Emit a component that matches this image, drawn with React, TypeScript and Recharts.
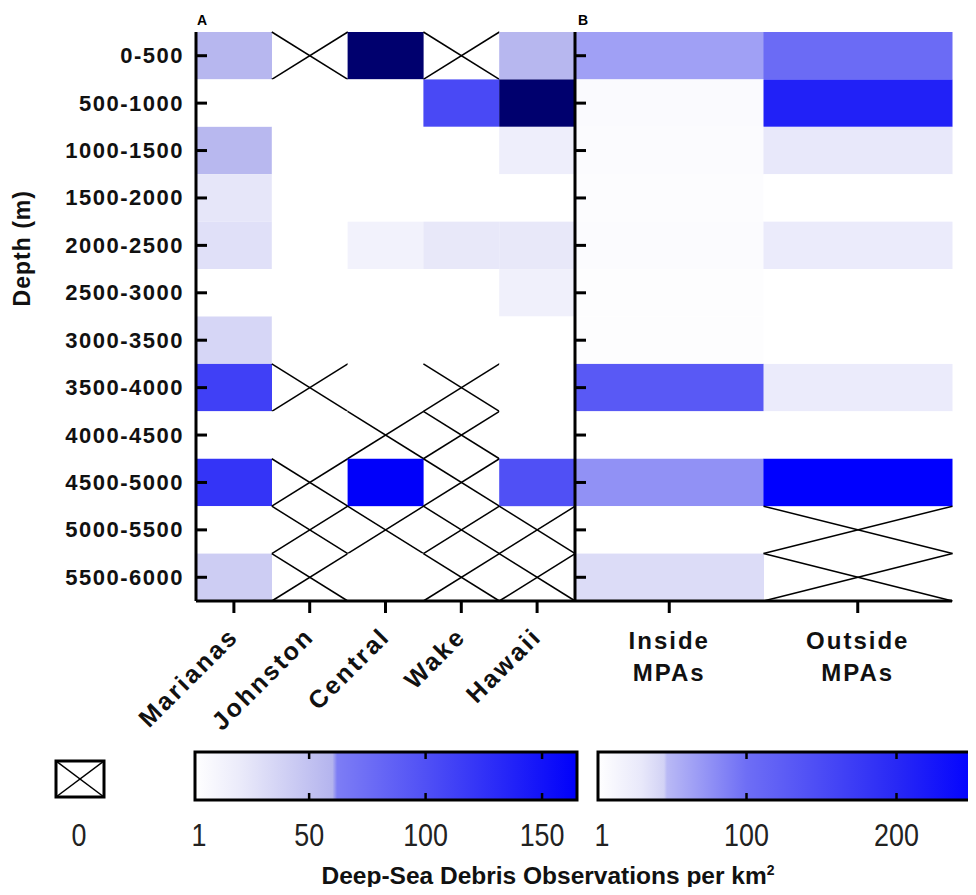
import { Bar, BarChart, ReferenceArea, XAxis, YAxis } from "recharts";

const depthBins = [
  "0-500", "500-1000", "1000-1500", "1500-2000", "2000-2500", "2500-3000",
  "3000-3500", "3500-4000", "4000-4500", "4500-5000", "5000-5500", "5500-6000",
];
const regions = ["Marianas", "Johnston", "Central", "Wake", "Hawaii"];
const mpaGroups = ["Inside\nMPAs", "Outside\nMPAs"];

// debris observations per km² in each depth bin; 0 = none seen (crossed cell)
const marianas = [58, 1, 57, 24, 28, 1, 35, 113, 1, 123, 1, 42];
const johnston = [0, 1, 1, 1, 1, 1, 1, 0, 1, 0, 0, 0];
const central = [380, 1, 1, 1, 13, 1, 1, 1, 0, 165, 0, 1];
const wake = [0, 106, 1, 1, 22, 1, 1, 0, 0, 0, 0, 0];
const hawaii = [58, 420, 17, 1, 22, 15, 1, 1, 1, 100, 0, 0];

const insideMpa = [65, 7, 6, 5, 6, 4, 4, 130, 1, 75, 1, 38];
const outsideMpa = [105, 210, 30, 1, 26, 1, 1, 26, 1, 255, 0, 0];

const ticksA = [1, 50, 100, 150];
const ticksB = [1, 100, 200];

type Stop = [number, [number, number, number]];
const stopsA: Stop[] = [
  [1, [255, 255, 255]],
  [20, [235, 235, 250]],
  [60, [180, 180, 238]],
  [62, [125, 125, 245]],
  [100, [80, 80, 245]],
  [165, [0, 0, 250]],
];
const stopsB: Stop[] = [
  [1, [255, 255, 255]],
  [30, [232, 232, 250]],
  [45, [210, 210, 245]],
  [47, [185, 185, 245]],
  [100, [110, 110, 245]],
  [200, [40, 40, 245]],
  [255, [0, 0, 255]],
];
const OVER = "#00006e";

const rgb = (c: number[]) => `rgb(${c.map((n) => Math.round(n)).join(",")})`;

function colour(v: number, stops: Stop[]) {
  const last = stops[stops.length - 1];
  if (v > last[0]) return OVER;
  if (v <= stops[0][0]) return rgb(stops[0][1]);
  for (let i = 1; i < stops.length; i++) {
    const [v1, c1] = stops[i];
    const [v0, c0] = stops[i - 1];
    if (v <= v1) {
      const t = (v - v0) / (v1 - v0);
      return rgb(c0.map((a, k) => a + (c1[k] - a) * t));
    }
  }
  return rgb(last[1]);
}

function buildRows(names: string[], cols: number[][]) {
  return names.map((name, j) => {
    const row: Record<string, any> = { name };
    depthBins.forEach((_, i) => {
      row[`r${i}`] = 1;
      row[`v${i}`] = cols[j][i];
    });
    return row;
  });
}

const dataA = buildRows(regions, [marianas, johnston, central, wake, hawaii]);
const dataB = buildRows(mpaGroups, [insideMpa, outsideMpa]);
const rowTicks = depthBins.map((_, i) => i + 0.5);

const BOLD = "'Liberation Sans', Arial, sans-serif";

function HeatCell(props: any) {
  const { x, y, width, height, v, stops } = props;
  const top = Math.min(y, y + height);
  const h = Math.abs(height);
  if (v === 0) {
    return (
      <g stroke="#000" strokeWidth={1.5}>
        <line x1={x} y1={top} x2={x + width} y2={top + h} />
        <line x1={x + width} y1={top} x2={x} y2={top + h} />
      </g>
    );
  }
  return <rect x={x} y={top} width={width} height={h} fill={colour(v, stops)} />;
}

function DepthTick({ x, y, payload, showLabel }: any) {
  return (
    <g>
      <line x1={x} x2={x + 11} y1={y} y2={y} stroke="#000" strokeWidth={3} />
      {showLabel && (
        <text
          x={x - 12}
          y={y}
          textAnchor="end"
          dominantBaseline="central"
          fontFamily={BOLD}
          fontWeight="bold"
          fontSize={22}
          letterSpacing={1.5}
          fill="#111"
        >
          {depthBins[Math.floor(payload.value)]}
        </text>
      )}
    </g>
  );
}

function RegionTick({ x, y, payload }: any) {
  const ax = x + 6;
  const ay = y + 37;
  return (
    <g>
      <line x1={x} x2={x} y1={y} y2={y + 12} stroke="#000" strokeWidth={3} />
      <text
        x={ax}
        y={ay}
        transform={`rotate(-45, ${ax}, ${ay})`}
        textAnchor="end"
        fontFamily={BOLD}
        fontWeight="bold"
        fontSize={25}
        letterSpacing={2.5}
        fill="#111"
      >
        {payload.value}
      </text>
    </g>
  );
}

function GroupTick({ x, y, payload }: any) {
  const lines = String(payload.value).split("\n");
  return (
    <g>
      <line x1={x} x2={x} y1={y} y2={y + 12} stroke="#000" strokeWidth={3} />
      {lines.map((t, k) => (
        <text
          key={k}
          x={x}
          y={y + 39 + k * 32}
          textAnchor="middle"
          dominantBaseline="central"
          fontFamily={BOLD}
          fontWeight="bold"
          fontSize={24}
          letterSpacing={2}
          fill="#111"
        >
          {t}
        </text>
      ))}
    </g>
  );
}

// the scale labels use a condensed face: squeeze regular Liberation Sans
function NarrowText({ x, y, children }: any) {
  return (
    <text
      transform={`translate(${x}, ${y}) scale(0.84, 1)`}
      textAnchor="middle"
      dominantBaseline="central"
      fontFamily={BOLD}
      fontSize={32}
      fill="#222"
    >
      {children}
    </text>
  );
}

function LegendTick({ x, y, payload, barH }: any) {
  const edge = payload.value === 1;
  return (
    <g>
      {!edge && (
        <g stroke="#000" strokeWidth={2.5}>
          <line x1={x} x2={x} y1={y} y2={y - 7} />
          <line x1={x} x2={x} y1={y - barH} y2={y - barH + 7} />
        </g>
      )}
      <NarrowText x={edge ? x + 4 : x} y={y + 35}>
        {payload.value}
      </NarrowText>
    </g>
  );
}

function HeatPanel({ data, stops, labels, left, width }: any) {
  return (
    <div style={{ position: "absolute", left, top: 0 }}>
      <BarChart
        width={width}
        height={740}
        data={data}
        margin={{ top: 32, right: labels ? 25 : 28, bottom: 0, left: 0 }}
        barCategoryGap={0}
        barGap={0}
      >
        <XAxis
          dataKey="name"
          height={139}
          tickSize={0}
          tickMargin={0}
          interval={0}
          axisLine={{ stroke: "#000", strokeWidth: 3 }}
          tick={labels ? <RegionTick /> : <GroupTick />}
        />
        <YAxis
          type="number"
          domain={[0, depthBins.length]}
          reversed
          ticks={rowTicks}
          interval={0}
          width={labels ? 196 : 15}
          tickSize={0}
          tickMargin={0}
          axisLine={{ stroke: "#000", strokeWidth: 3 }}
          tick={<DepthTick showLabel={labels} />}
          label={
            labels
              ? {
                  content: (p: any) => {
                    const vb = p.viewBox;
                    const cx = vb.x + 22;
                    const cy = vb.y + vb.height * 0.38;
                    return (
                      <text
                        transform={`translate(${cx}, ${cy}) rotate(-90)`}
                        textAnchor="middle"
                        dominantBaseline="central"
                        fontFamily={BOLD}
                        fontWeight="bold"
                        fontSize={23}
                        letterSpacing={1}
                        fill="#111"
                      >
                        Depth (m)
                      </text>
                    );
                  },
                }
              : undefined
          }
        />
        {depthBins.map((_, i) => (
          <Bar
            key={i}
            dataKey={`r${i}`}
            stackId="s"
            isAnimationActive={false}
            shape={(p: any) => <HeatCell {...p} v={p.payload[`v${i}`]} stops={stops} />}
          />
        ))}
        <ReferenceArea fill="none" stroke="#000" strokeWidth={3} strokeOpacity={1} />
      </BarChart>
    </div>
  );
}

function ColourBar({ id, stops, ticks, left, width, marginLeft, marginRight }: any) {
  const lo = stops[0][0];
  const hi = stops[stops.length - 1][0];
  return (
    <div style={{ position: "absolute", left, top: 740 }}>
      <BarChart
        width={width}
        height={155}
        layout="vertical"
        data={[{ name: id, range: [lo, hi] }]}
        margin={{ top: 12, right: marginRight, bottom: 0, left: marginLeft }}
        barCategoryGap={0}
      >
        <defs>
          <linearGradient id={id} x1="0" y1="0" x2="1" y2="0">
            {stops.map(([v, c]: Stop, k: number) => (
              <stop key={k} offset={(v - lo) / (hi - lo)} stopColor={rgb(c)} />
            ))}
          </linearGradient>
        </defs>
        <XAxis
          type="number"
          domain={[lo, hi]}
          ticks={ticks}
          interval={0}
          height={95}
          tickSize={0}
          tickMargin={0}
          axisLine={false}
          tick={<LegendTick barH={48} />}
        />
        <YAxis type="category" dataKey="name" hide />
        <Bar
          dataKey="range"
          fill={`url(#${id})`}
          stroke="#000"
          strokeWidth={3}
          isAnimationActive={false}
        />
      </BarChart>
    </div>
  );
}

const panelLetter = (left: number) => ({
  position: "absolute" as const,
  left,
  top: 12,
  fontFamily: BOLD,
  fontWeight: "bold",
  fontSize: 14,
});

export default function App() {
  return (
    <div
      style={{
        position: "relative",
        width: 976,
        height: 895,
        margin: -8,
        overflow: "hidden",
        background: "#fff",
      }}
    >
      <HeatPanel data={dataA} stops={stopsA} labels left={0} width={600} />
      <HeatPanel data={dataB} stops={stopsB} labels={false} left={560} width={420} />
      <div style={panelLetter(197)}>A</div>
      <div style={panelLetter(578)}>B</div>
      <svg style={{ position: "absolute", left: 0, top: 740 }} width={150} height={120}>
        <rect x={56} y={21} width={48} height={36} fill="#fff" stroke="#000" strokeWidth={3} />
        <g stroke="#000" strokeWidth={1.5}>
          <line x1={56} y1={21} x2={104} y2={57} />
          <line x1={104} y1={21} x2={56} y2={57} />
        </g>
        <NarrowText x={79} y={95}>0</NarrowText>
      </svg>
      <ColourBar
        id="gradA"
        stops={stopsA}
        ticks={ticksA}
        left={0}
        width={600}
        marginLeft={195}
        marginRight={23}
      />
      <ColourBar
        id="gradB"
        stops={stopsB}
        ticks={ticksB}
        left={580}
        width={410}
        marginLeft={18}
        marginRight={11}
      />
      <div
        style={{
          position: "absolute",
          left: 0,
          width: 1096,
          top: 862,
          textAlign: "center",
          fontFamily: BOLD,
          fontWeight: "bold",
          fontSize: 24.5,
          color: "#111",
        }}
      >
        Deep-Sea Debris Observations per km<sup style={{ fontSize: 14 }}>2</sup>
      </div>
    </div>
  );
}
